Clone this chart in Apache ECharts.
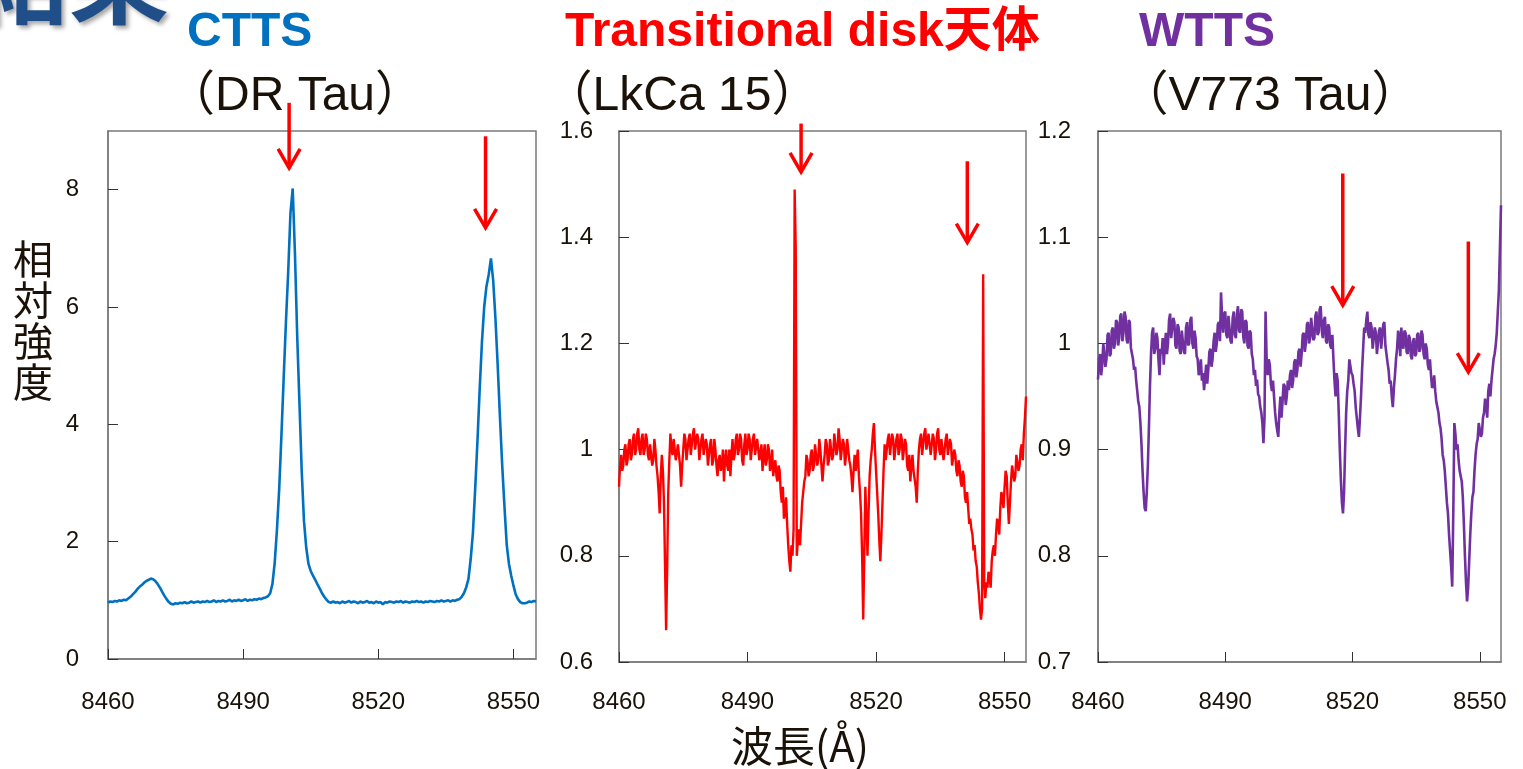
<!DOCTYPE html>
<html>
<head>
<meta charset="utf-8">
<title>Ca II triplet spectra</title>
<script src="https://cdn.jsdelivr.net/npm/echarts@6/dist/echarts.min.js"></script>
<style>
  html, body { margin: 0; padding: 0; background: #ffffff; }
  #chart { width: 1523px; height: 769px; }
</style>
</head>
<body>
<div id="chart"></div>
<script>
// Spectra are sampled on uniform wavelength grids (Å): start + step * index
const WAVE_START = 8460;
const STEP_DRTAU = 0.5;
const STEP_LKCA15 = 0.25;
const STEP_V773TAU = 0.25;

const xTicks = [8460, 8490, 8520, 8550];
const yTicksCTTS = [0, 2, 4, 6, 8];
const yTicksTD = [0.6, 0.8, 1.0, 1.2, 1.4, 1.6];
const yTicksWTTS = [0.7, 0.8, 0.9, 1.0, 1.1, 1.2];

// DR Tau (CTTS) relative intensity, 0.5 Å steps
const fluxDRTau = [
  0.96,0.98,0.97,0.99,0.98,1.00,0.99,1.01,1.00,1.03,
  1.06,1.10,1.14,1.19,1.23,1.26,1.30,1.33,1.35,1.37,
  1.36,1.33,1.28,1.22,1.15,1.08,1.02,0.97,0.94,0.93,
  0.95,0.94,0.96,0.95,0.97,0.95,0.96,0.98,0.96,0.97,
  0.98,0.96,0.98,0.97,0.99,0.97,0.98,1.00,0.97,0.99,
  0.98,1.00,0.98,0.99,1.01,0.98,1.00,0.99,1.01,0.99,
  1.00,1.02,0.99,1.01,1.00,1.02,1.01,1.03,1.02,1.04,
  1.05,1.07,1.12,1.28,1.64,2.20,2.90,3.82,4.80,5.75,
  6.60,7.60,8.02,6.90,5.50,4.35,3.20,2.35,1.90,1.62,
  1.50,1.42,1.35,1.27,1.20,1.12,1.06,1.01,0.97,0.96,
  0.98,0.96,0.97,0.95,0.98,0.96,0.97,0.99,0.96,0.98,
  0.97,0.95,0.98,0.96,0.97,0.99,0.96,0.97,0.95,0.98,
  0.96,0.97,0.93,0.97,0.96,0.98,0.97,0.96,0.98,0.97,
  0.99,0.96,0.98,0.97,0.96,0.98,0.97,0.99,0.97,0.98,
  0.96,0.98,0.97,0.99,0.98,0.97,0.99,0.98,1.00,0.98,
  0.99,1.00,0.98,1.00,0.99,1.01,1.02,1.06,1.12,1.22,
  1.36,1.70,2.15,2.90,3.70,4.60,5.40,6.00,6.35,6.55,
  6.83,6.45,5.80,5.00,4.12,3.30,2.60,1.95,1.62,1.42,
  1.25,1.10,1.02,0.97,0.95,0.95,0.96,0.98,0.97,0.99,0.98
];

// LkCa 15 (transitional disk) relative intensity, 0.25 Å steps
const fluxLkCa15 = [
  0.93,0.97,0.99,0.96,0.97,1.00,1.01,0.97,0.98,1.01,1.02,0.98,0.99,1.02,1.03,0.99,1.00,1.03,1.04,1.00,
  0.99,1.02,1.03,0.99,1.00,1.03,1.02,0.99,0.98,1.01,1.01,0.97,0.98,1.02,1.00,0.97,0.95,0.92,0.88,0.95,
  0.99,0.96,0.90,0.78,0.66,0.78,0.92,0.98,1.03,1.00,0.99,1.02,1.02,0.98,0.98,1.01,1.01,0.97,0.93,0.97,
  1.00,1.03,1.02,0.98,0.98,1.02,1.03,0.99,0.99,1.03,1.04,1.00,1.00,1.03,1.02,0.98,0.98,1.02,1.03,0.99,
  0.99,1.02,1.01,0.97,0.97,1.01,1.02,0.97,0.98,1.02,1.00,0.97,0.95,0.98,0.99,0.96,0.97,1.00,0.94,0.98,
  1.00,0.97,0.96,1.00,0.95,0.99,1.02,0.98,0.99,1.02,1.03,0.99,1.00,1.03,1.02,0.98,0.97,1.01,1.03,0.99,
  1.00,1.03,1.02,0.98,0.98,1.02,1.03,0.99,0.99,1.02,1.02,0.98,0.98,1.01,0.96,0.99,1.01,0.97,0.98,1.01,
  1.00,0.96,0.97,1.00,0.95,0.97,0.98,0.95,0.94,0.97,0.96,0.92,0.90,0.93,0.87,0.88,0.91,0.86,0.82,0.79,
  0.77,0.82,0.80,0.85,1.49,1.38,0.80,0.83,0.85,0.82,0.86,0.90,0.92,0.94,0.95,0.99,0.98,0.95,0.96,0.99,
  1.00,0.96,0.97,1.01,1.01,0.97,0.98,1.02,1.00,0.97,0.94,0.97,0.99,1.02,1.01,0.97,0.98,1.02,1.02,0.98,
  0.99,1.03,1.03,0.99,1.00,1.04,1.02,0.98,0.98,1.02,1.01,0.97,0.99,1.02,1.02,0.98,0.97,0.95,0.92,0.96,
  0.99,0.96,0.98,1.00,0.95,0.92,0.88,0.80,0.68,0.80,0.93,0.87,0.80,0.88,0.95,0.98,1.00,1.03,1.05,1.00,
  0.96,0.92,0.88,0.83,0.79,0.84,0.90,0.96,1.01,0.98,0.98,1.02,1.03,0.99,0.99,1.03,1.02,0.98,0.98,1.02,
  1.03,0.99,1.00,1.03,1.02,0.98,0.98,1.02,1.01,0.97,0.96,0.99,0.94,0.97,0.99,0.96,0.96,0.93,0.90,0.96,
  1.00,1.02,1.03,0.99,0.99,1.03,1.04,1.00,1.00,1.03,1.03,0.99,0.99,1.03,1.02,0.98,1.00,1.03,1.04,1.00,
  0.99,1.02,1.02,0.98,0.98,1.02,1.03,0.99,0.99,1.02,1.01,0.97,0.97,1.00,0.99,0.96,0.95,0.98,0.97,0.94,
  0.93,0.96,0.95,0.91,0.90,0.92,0.89,0.86,0.87,0.85,0.84,0.81,0.82,0.79,0.78,0.75,0.73,0.70,0.68,0.70,
  1.33,0.75,0.72,0.75,0.74,0.77,0.76,0.74,0.79,0.81,0.82,0.80,0.84,0.87,0.86,0.84,0.89,0.92,0.91,0.89,
  0.93,0.96,0.95,0.90,0.86,0.90,0.94,0.97,0.97,0.94,0.95,0.99,0.99,0.96,0.97,1.00,1.01,0.98,1.03,1.06,
  1.10
];

// V773 Tau (WTTS) relative intensity, 0.25 Å steps
const fluxV773Tau = [
  0.966,0.985,0.990,0.970,0.980,1.000,1.000,0.978,0.985,1.008,1.010,0.988,0.990,1.012,1.015,0.995,1.000,1.022,1.020,0.998,
  1.005,1.026,1.028,1.002,1.010,1.030,1.025,1.003,1.000,1.022,1.020,0.996,0.995,0.985,0.975,0.978,0.965,0.955,0.945,0.940,
  0.925,0.905,0.880,0.860,0.845,0.842,0.860,0.885,0.920,0.960,0.990,1.010,1.015,0.990,0.995,1.010,1.005,0.985,0.970,0.995,
  0.990,1.005,0.980,0.998,1.010,0.990,1.000,1.022,1.028,1.005,1.005,1.024,1.020,0.998,0.995,1.018,1.015,0.993,0.990,1.012,
  1.012,0.992,0.990,1.015,1.020,0.998,1.000,1.022,1.025,1.000,0.995,1.012,1.005,0.988,0.985,0.970,0.975,0.985,0.965,0.972,
  0.956,0.968,0.980,0.962,0.975,0.992,0.995,0.978,0.985,1.002,1.010,0.992,1.000,1.018,1.020,1.002,1.048,1.025,1.010,1.028,
  1.030,1.008,1.005,1.026,1.025,1.002,1.000,1.024,1.030,1.008,1.005,1.028,1.035,1.012,1.010,1.032,1.030,1.006,1.000,1.022,
  1.020,0.998,0.995,1.012,1.010,0.990,0.985,0.970,0.975,0.960,0.966,0.952,0.950,0.940,0.935,0.925,0.906,0.930,1.030,0.985,
  0.970,0.985,0.980,0.962,0.955,0.965,0.950,0.935,0.925,0.918,0.912,0.935,0.950,0.930,0.945,0.962,0.960,0.942,0.950,0.965,
  0.956,0.970,0.975,0.958,0.965,0.982,0.985,0.968,0.975,0.992,0.995,0.978,0.990,1.008,1.010,0.992,1.000,1.018,1.020,1.000,
  1.005,1.024,1.025,1.003,1.005,1.026,1.030,1.008,1.010,1.032,1.035,1.012,1.005,1.022,1.025,1.002,1.000,1.018,1.015,0.998,
  0.995,1.008,0.985,0.965,0.950,0.972,0.965,0.935,0.900,0.872,0.850,0.840,0.860,0.900,0.935,0.955,0.965,0.985,0.985,0.972,
  0.970,0.962,0.955,0.940,0.930,0.920,0.912,0.930,0.950,0.975,0.995,1.015,1.010,1.022,1.030,1.008,1.005,1.020,1.015,0.995,
  0.995,1.015,1.010,0.990,0.990,1.012,1.015,0.995,0.995,1.018,1.020,0.998,0.990,0.982,0.975,0.962,0.965,0.950,0.940,0.958,
  0.970,0.985,0.995,1.012,1.005,0.988,1.015,1.000,0.995,1.012,1.010,0.992,0.990,1.008,1.005,0.988,0.985,1.002,1.005,0.988,
  0.990,1.008,1.010,0.992,0.995,1.012,1.008,0.990,0.985,1.000,0.995,0.980,0.975,0.985,0.970,0.958,0.960,0.970,0.955,0.945,
  0.945,0.935,0.925,0.920,0.910,0.895,0.890,0.880,0.865,0.850,0.840,0.820,0.805,0.790,0.771,0.840,0.925,0.915,0.900,0.905,
  0.890,0.880,0.880,0.870,0.855,0.830,0.800,0.775,0.757,0.770,0.795,0.820,0.840,0.855,0.860,0.880,0.895,0.905,0.910,0.925,
  0.925,0.912,0.915,0.930,0.935,0.948,0.940,0.930,0.955,0.962,0.950,0.965,0.975,0.985,0.990,0.998,1.010,1.030,1.050,1.090,
  1.130
];

// Ca II triplet markers: [wavelength, arrow top, arrow tip] per panel
const arrowsCTTS = [[8500.2, 9.48, 8.37], [8543.8, 8.91, 7.35]];
const arrowsTD = [[8502.5, 1.614, 1.523], [8541.3, 1.543, 1.390]];
const arrowsWTTS = [[8517.7, 1.160, 1.036], [8547.3, 1.096, 0.973]];

function toPairs(flux, step) {
  return flux.map((v, i) => [WAVE_START + step * i, v]);
}

const TEXT_DARK = '#1a1208';
const AXIS_GRAY = '#7a7a7a';
const NUM_FONT = 'Liberation Sans, Arial, sans-serif';
const CJK_FONT = 'Liberation Sans, Noto Sans CJK JP, sans-serif';

const grids = [
  { left: 108, top: 131, width: 428, height: 528 },
  { left: 619, top: 131, width: 407, height: 531 },
  { left: 1098, top: 131, width: 403, height: 531 }
];

function xAxisFor(idx, margin) {
  return {
    type: 'value', gridIndex: idx, min: 8460, max: 8555,
    axisLine: { show: true, lineStyle: { color: AXIS_GRAY, width: 1.5 } },
    axisTick: { show: true, inside: true, length: 10, customValues: xTicks,
                lineStyle: { color: '#333', width: 1 } },
    axisLabel: { show: true, customValues: xTicks, margin: margin,
                 color: TEXT_DARK, fontSize: 24, fontFamily: NUM_FONT,
                 formatter: v => String(Math.round(v)) },
    splitLine: { show: false }
  };
}

function yAxisFor(idx, min, max, ticks, margin) {
  return {
    type: 'value', gridIndex: idx, min: min, max: max,
    axisLine: { show: true, lineStyle: { color: AXIS_GRAY, width: 1.5 } },
    axisTick: { show: true, inside: true, length: 10, customValues: ticks,
                lineStyle: { color: '#333', width: 1 } },
    axisLabel: { show: true, customValues: ticks, margin: margin,
                 color: TEXT_DARK, fontSize: 24, fontFamily: NUM_FONT,
                 formatter: v => String(+(+v).toFixed(1)) },
    splitLine: { show: false }
  };
}

const chart = echarts.init(document.getElementById('chart'), null, { renderer: 'canvas' });

chart.setOption({
  backgroundColor: '#ffffff',
  animation: false,
  grid: grids.map(g => Object.assign({ show: true, borderColor: AXIS_GRAY, borderWidth: 1.5,
                                        backgroundColor: 'transparent' }, g)),
  xAxis: [xAxisFor(0, 31), xAxisFor(1, 28), xAxisFor(2, 28)],
  yAxis: [
    yAxisFor(0, 0, 9, yTicksCTTS, 29),
    yAxisFor(1, 0.6, 1.6, yTicksTD, 26),
    yAxisFor(2, 0.7, 1.2, yTicksWTTS, 27)
  ],
  series: [
    { type: 'line', name: 'DR Tau', xAxisIndex: 0, yAxisIndex: 0, data: toPairs(fluxDRTau, STEP_DRTAU),
      showSymbol: false, symbol: 'none', lineStyle: { color: '#0070C0', width: 2.6 }, clip: true },
    { type: 'line', name: 'LkCa 15', xAxisIndex: 1, yAxisIndex: 1, data: toPairs(fluxLkCa15, STEP_LKCA15),
      showSymbol: false, symbol: 'none', lineStyle: { color: '#FF0000', width: 2.4 }, clip: true },
    { type: 'line', name: 'V773 Tau', xAxisIndex: 2, yAxisIndex: 2, data: toPairs(fluxV773Tau, STEP_V773TAU),
      showSymbol: false, symbol: 'none', lineStyle: { color: '#7030A0', width: 2.6 }, clip: true }
  ]
});

// Red arrows marking the Ca II lines, placed in data coordinates of each panel
function arrowElements(list, panel) {
  const out = [];
  list.forEach(a => {
    const top = chart.convertToPixel({ xAxisIndex: panel, yAxisIndex: panel }, [a[0], a[1]]);
    const tip = chart.convertToPixel({ xAxisIndex: panel, yAxisIndex: panel }, [a[0], a[2]]);
    const style = { stroke: '#FF0000', lineWidth: 3.5, fill: null, lineJoin: 'miter', lineCap: 'butt' };
    out.push({ type: 'line', z: 100, shape: { x1: top[0], y1: top[1], x2: tip[0], y2: tip[1] - 2 }, style: style });
    out.push({ type: 'polyline', z: 100,
      shape: { points: [[tip[0] - 11, tip[1] - 19], [tip[0], tip[1]], [tip[0] + 11, tip[1] - 19]] },
      style: style });
  });
  return out;
}

// Text placed by the top of its line box
function label(text, x, y, opts) {
  return {
    type: 'text', x: x, y: y, z: 100,
    style: Object.assign({ text: text, fill: TEXT_DARK, fontFamily: CJK_FONT,
                           fontSize: 48, align: 'left', verticalAlign: 'top' }, opts)
  };
}

chart.setOption({
  graphic: [
    label('結果', -31, 28, { fill: '#1F4E89', fontSize: 100, fontWeight: 'bold',
      fontFamily: 'Noto Sans CJK JP, sans-serif', verticalAlign: 'bottom',
      textShadowColor: 'rgba(0,0,0,0.35)', textShadowOffsetX: 3, textShadowOffsetY: 3, textShadowBlur: 4 }),
    label('CTTS', 187, 9, { fill: '#0070C0', fontWeight: 'bold' }),
    label('（DR Tau）', 295, 73, { align: 'center' }),
    label('Transitional disk天体', 565, 9, { fill: '#FF0000', fontWeight: 'bold' }),
    label('（LkCa 15）', 682, 73, { align: 'center' }),
    label('WTTS', 1139, 9, { fill: '#7030A0', fontWeight: 'bold' }),
    label('（V773 Tau）', 1270, 73, { align: 'center' }),
    label('相\n対\n強\n度', 33, 320, { fontSize: 40, lineHeight: 41, align: 'center',
      verticalAlign: 'middle', fontFamily: 'Noto Sans CJK JP, sans-serif' }),
    label('波長(Å)', 800, 746, { fontSize: 42, align: 'center', verticalAlign: 'middle',
      fontFamily: 'Noto Sans CJK JP, sans-serif' })
  ].concat(arrowElements(arrowsCTTS, 0), arrowElements(arrowsTD, 1), arrowElements(arrowsWTTS, 2))
});
</script>
</body>
</html>
